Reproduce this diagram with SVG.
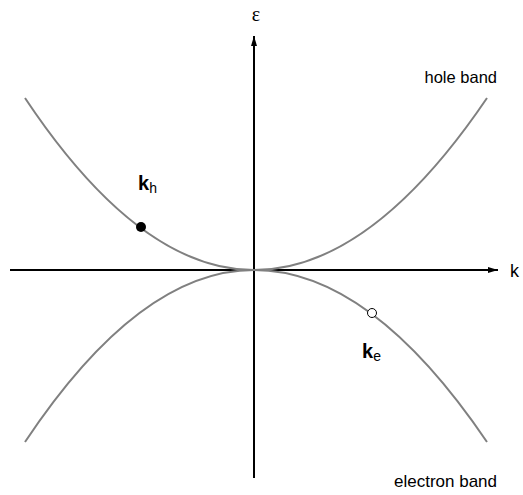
<svg xmlns="http://www.w3.org/2000/svg" width="523" height="495" viewBox="0 0 523 495">
<style>
.lbl{font-family:"Liberation Sans",Arial,sans-serif;fill:#000}
.band{fill:none;stroke:#808080;stroke-width:2}
.axis{stroke:#000;stroke-width:2;fill:none}
</style>
<defs>
<marker id="arr" viewBox="0 0 10 10" refX="10" refY="5" markerWidth="10" markerHeight="10" markerUnits="userSpaceOnUse" orient="auto">
<path d="M0,2 L10,5 L0,8 Z" fill="#000"/>
</marker>
</defs>
<rect width="523" height="495" fill="#fff"/>
<g id="connectors">
<line class="axis" x1="10" y1="270" x2="498" y2="270" marker-end="url(#arr)"/>
<line class="axis" x1="254" y1="478" x2="254" y2="36" marker-end="url(#arr)"/>
</g>
<g id="hole-band">
<path class="band" d="M25,98 Q139.5,270 254,270 Q370.5,270 487,98"/>
<text class="lbl" x="497" y="83" font-size="16.5" text-anchor="end">hole band</text>
</g>
<g id="electron-band">
<path class="band" d="M25,442 Q139.5,270 254,270 Q370.5,270 487,442"/>
<text class="lbl" x="497" y="487" font-size="17" text-anchor="end">electron band</text>
</g>
<g id="axis-labels">
<text x="256" y="21" font-family="'Liberation Serif','Times New Roman',serif" font-size="20" text-anchor="middle">ε</text>
<text class="lbl" x="510" y="277" font-size="18">k</text>
</g>
<g id="kh">
<circle cx="141" cy="227" r="5" fill="#000"/>
<text class="lbl" x="138" y="190" font-size="20" font-weight="bold">k<tspan font-size="14" font-weight="normal" dy="3">h</tspan></text>
</g>
<g id="ke">
<circle cx="372" cy="313" r="4.5" fill="#fff" stroke="#000" stroke-width="1"/>
<text class="lbl" x="362" y="358" font-size="20" font-weight="bold">k<tspan font-size="14" font-weight="normal" dy="3">e</tspan></text>
</g>
</svg>
